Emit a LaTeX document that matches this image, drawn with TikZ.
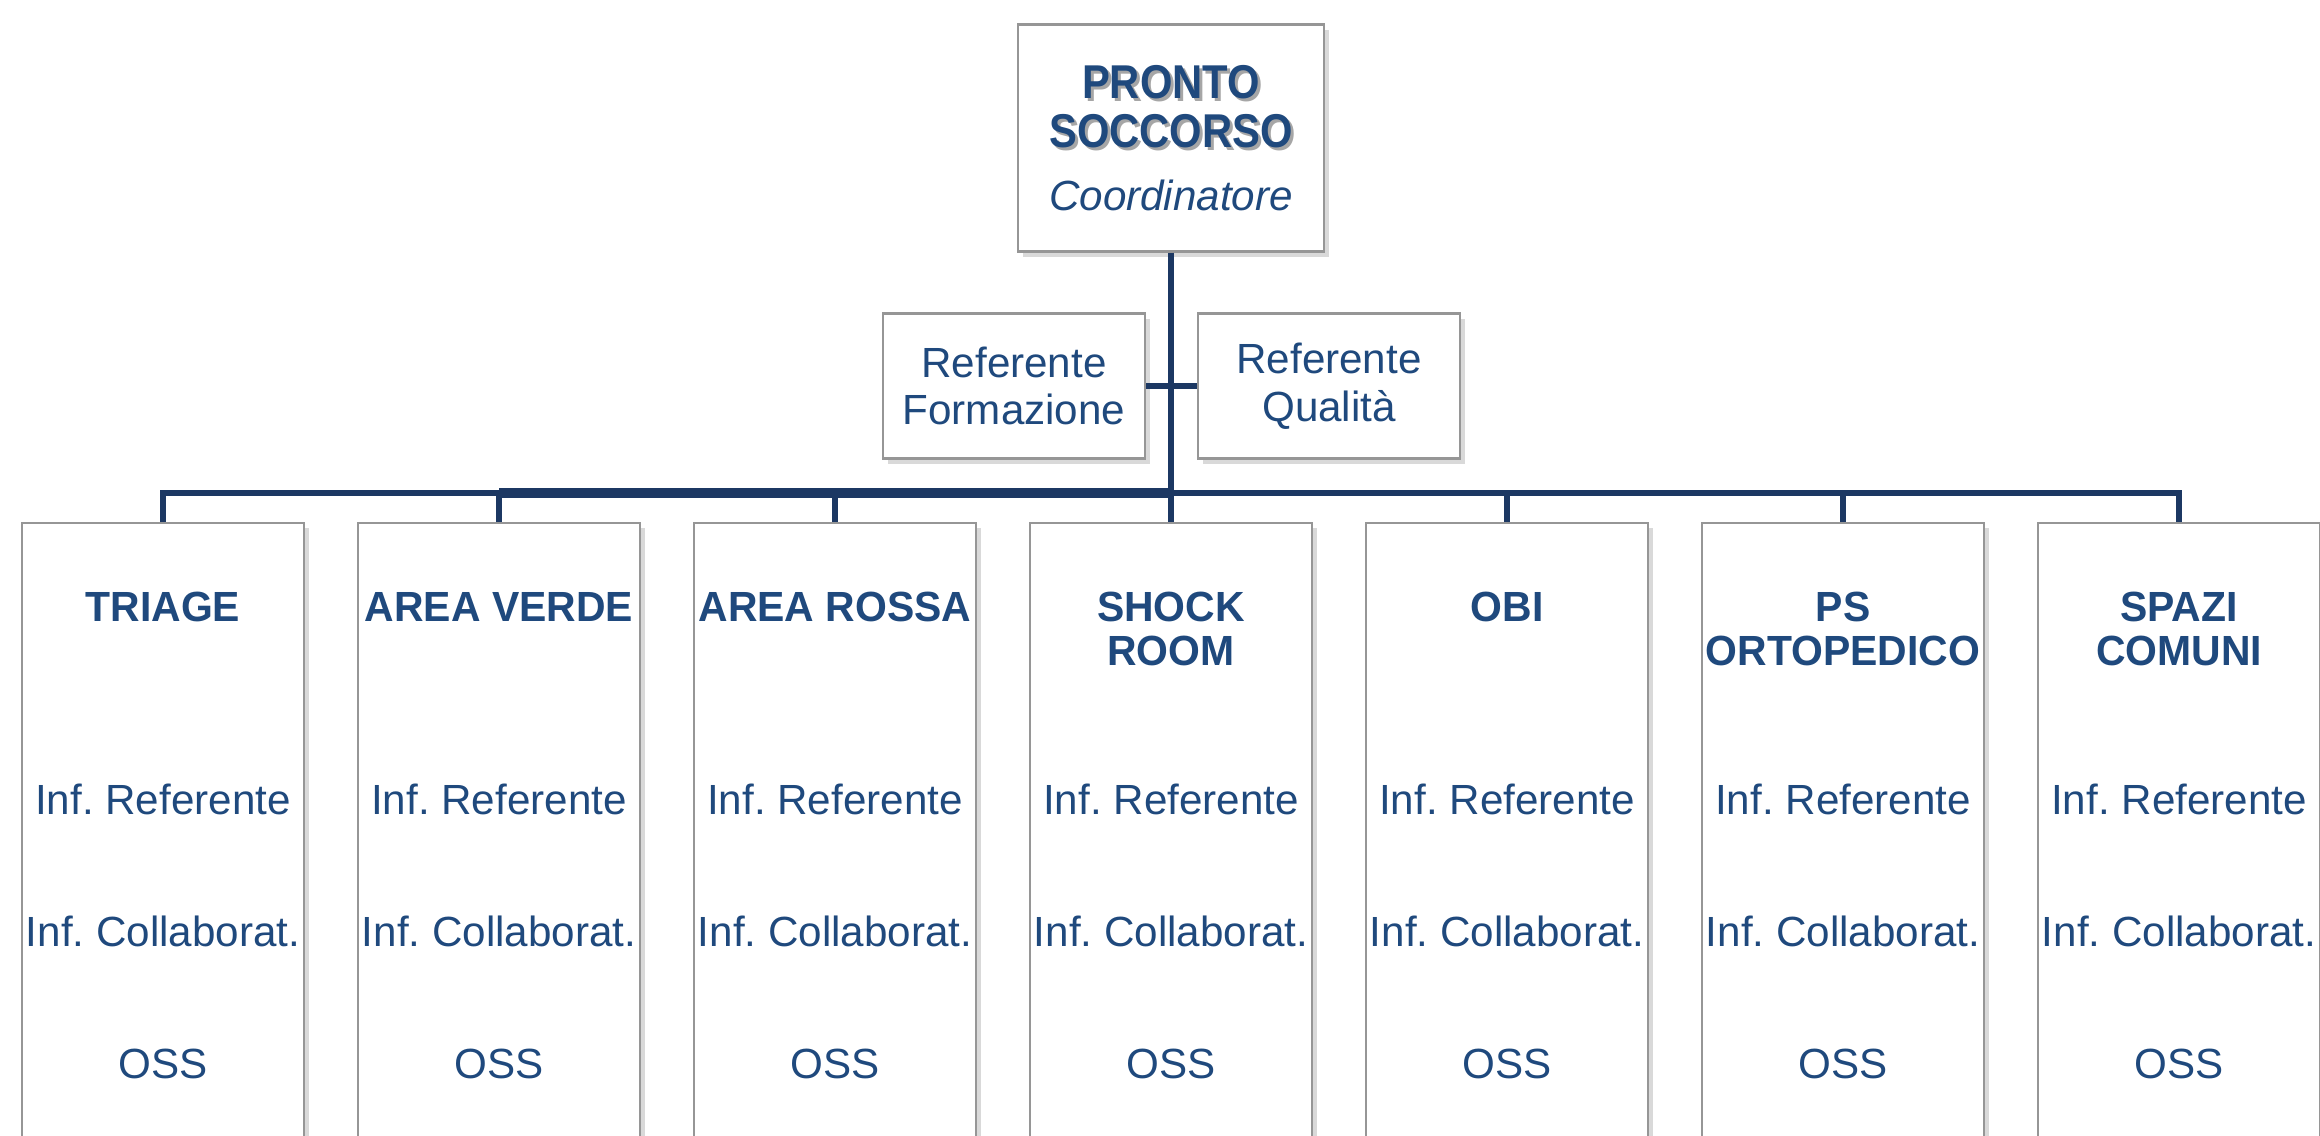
\documentclass[tikz,border=0pt]{standalone}
\usepackage{fontspec}
\setmainfont{Liberation Sans}
\newfontfamily\headfont[FakeStretch=0.88]{Liberation Sans}
\newfontfamily\unitfont[FakeStretch=0.97]{Liberation Sans}
\usetikzlibrary{shadows}
\frenchspacing

\definecolor{psblue}{RGB}{31,73,125}
\definecolor{psline}{RGB}{28,56,99}
\definecolor{psborder}{RGB}{150,150,150}

\newcommand{\shadowed}[1]{\makebox[0pt][l]{\kern0.3mm\raisebox{-0.3mm}{\textcolor{black!35}{#1}}}#1}
\newcommand{\pstitle}[1]{{\headfont\bfseries\fontsize{13.5}{13.7}\selectfont\shadowed{#1}}}
\newcommand{\unittext}[2]{%
  \begin{tabular}[t]{@{}c@{}}
    \rule{0pt}{27.9pt}{\unitfont\bfseries #1}\\[-1.5pt]
    {\unitfont\bfseries #2}\\[28.5pt]
    Inf. Referente\\[23.6pt]
    Inf. Collaborat.\\[23.6pt]
    OSS\rule[-25pt]{0pt}{0pt}
  \end{tabular}}

\tikzset{
  box/.style={draw=psborder, line width=0.6pt, fill=white, text=psblue,
    drop shadow={shadow xshift=0.5mm, shadow yshift=-0.5mm, opacity=0.3},
    font=\fontsize{12}{14}\selectfont},
  head/.style={box, align=center, minimum width=30.6mm, minimum height=22.7mm},
  ref/.style={box, align=center, minimum width=26.2mm, minimum height=14.5mm,
    font=\fontsize{12}{13.6}\selectfont},
  unit/.style={box, anchor=north, inner sep=0pt, minimum width=28.2mm},
  link/.style={draw=psline, line width=1.7pt},
  buslink/.style={draw=psline, line width=3pt}
}

\begin{document}
\begin{tikzpicture}[x=0.1mm, y=-0.1mm]
  \useasboundingbox (0,0) rectangle (2320,1135);

  \node[head] (ps) at (1171,138) {\pstitle{PRONTO}\\\pstitle{SOCCORSO}\\[3.9pt]{\itshape Coordinatore}}; % Pronto Soccorso

  \node[ref] (form) at (1014,386) {Referente\\Formazione}; % Formazione
  \node[ref] (qual) at (1329,386) {Referente\\Qualità}; % Qualita

  \node[unit] (triage) at (163,522) {\unittext{TRIAGE}{}};
  \node[unit] (verde) at (499,522) {\unittext{AREA VERDE}{}};
  \node[unit] (rossa) at (835,522) {\unittext{AREA ROSSA}{}};
  \node[unit] (shock) at (1171,522) {\unittext{SHOCK}{ROOM}};
  \node[unit] (obi) at (1507,522) {\unittext{OBI}{}};
  \node[unit] (orto) at (1843,522) {\unittext{PS}{ORTOPEDICO}};
  \node[unit] (spazi) at (2179,522) {\unittext{SPAZI}{COMUNI}};

  \coordinate (bus) at (1171,493);

  \draw[link] (ps.south) -- (shock.north); % trunk
  \draw[link] (form.east) -- (qual.west); % referenti
  \draw[link] (triage.north) |- (bus) -| (spazi.north); % bus
  \draw[buslink] (verde.north |- bus) -- (bus);
  \draw[link] (verde.north) -- (verde.north |- bus);
  \draw[link] (rossa.north) -- (rossa.north |- bus);
  \draw[link] (obi.north) -- (obi.north |- bus);
  \draw[link] (orto.north) -- (orto.north |- bus);

\end{tikzpicture}
\end{document}
